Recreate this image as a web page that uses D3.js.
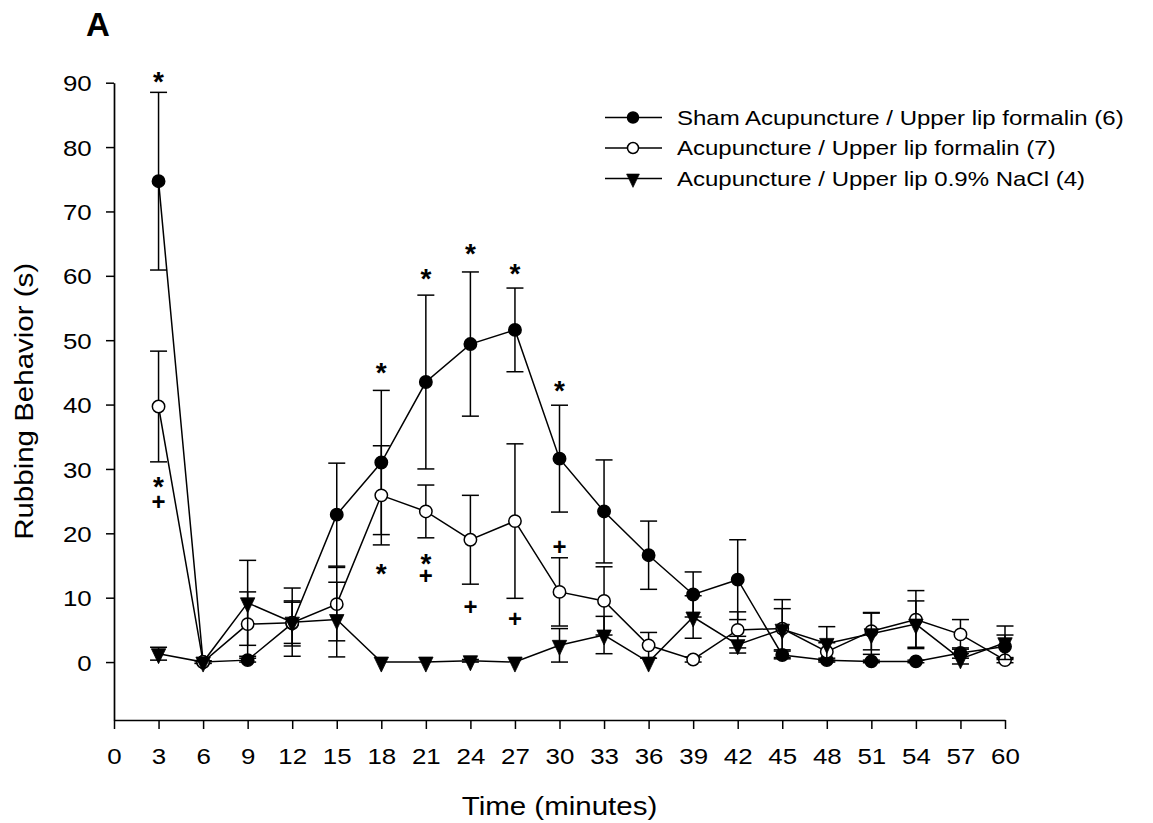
<!DOCTYPE html>
<html>
<head>
<meta charset="utf-8">
<script src="https://cdn.jsdelivr.net/npm/d3@7"></script>
<style>
  html, body { margin: 0; padding: 0; background: #fff; }
  svg { display: block; }
  text { font-family: "Liberation Sans", Arial, sans-serif; fill: #000; }
</style>
</head>
<body>
<svg id="chart" width="1153" height="823"></svg>
<script>
// ---------------- DATA ----------------
const times = [3, 6, 9, 12, 15, 18, 21, 24, 27, 30, 33, 36, 39, 42, 45, 48, 51, 54, 57, 60];

const shamMean = [74.7, 0, 0.3, 6.0, 22.9, 31.0, 43.5, 49.4, 51.6, 31.6, 23.4, 16.6, 10.5, 12.8, 1.1, 0.3, 0.1, 0.1, 1.4, 2.4];
const shamSE   = [13.8, 0.2, 0.3, 3.5, 8.0, 11.2, 13.5, 11.2, 6.5, 8.3, 8.0, 5.3, 3.5, 6.2, 0.6, 0.3, 0.2, 0.2, 0.8, 1.8];

const acuMean  = [39.7, 0, 5.9, 6.1, 9.0, 25.9, 23.4, 19.0, 21.9, 10.9, 9.5, 2.6, 0.4, 5.0, 5.2, 1.6, 4.8, 6.6, 4.3, 0.3];
const acuSE    = [8.6, 0.2, 5.0, 3.2, 5.7, 7.7, 4.1, 6.9, 12.0, 5.3, 5.3, 2.0, 0.4, 2.8, 4.5, 1.4, 2.9, 4.5, 2.3, 0.4];

const naclMean = [1.3, 0, 9.2, 6.2, 6.6, 0, 0, 0.2, 0, 2.6, 4.2, 0, 7.0, 2.7, 5.1, 2.9, 4.4, 5.9, 0.5, 3.0];
const naclSE   = [1.0, 0, 6.6, 5.3, 5.8, 0, 0, 0.2, 0, 2.6, 2.9, 0, 3.3, 1.3, 3.2, 2.6, 3.2, 3.6, 0.8, 2.6];

const seriesNames = [
  "Sham Acupuncture / Upper lip formalin (6)",
  "Acupuncture / Upper lip formalin (7)",
  "Acupuncture / Upper lip 0.9% NaCl (4)"
];

// significance marks: time, value position, symbol
const sigTimes   = [3, 3, 3, 18, 18, 21, 21, 21, 24, 24, 27, 27, 30, 30];
const sigValues  = [91.2, 28.3, 24.9, 46.0, 14.8, 60.6, 16.3, 13.4, 64.5, 8.7, 61.4, 6.7, 43.2, 17.9];
const sigSymbols = ["*", "*", "+", "*", "*", "*", "*", "+", "*", "+", "*", "+", "*", "+"];

const xTicks = d3.range(0, 61, 3);
const yTicks = d3.range(0, 91, 10);

const xTitle = "Time (minutes)";
const yTitle = "Rubbing Behavior (s)";
const panelLabel = "A";

// ---------------- CHART ----------------
const svg = d3.select("#chart");
const x = d3.scaleLinear().domain([0, 60]).range([114, 1005]);
const y = d3.scaleLinear().domain([-9, 90]).range([720, 82.7]);

const TXS = 1.15; // horizontal text stretch

// Y axis
const yAxisG = svg.append("g").attr("transform", `translate(${x(0)},0)`)
  .call(d3.axisLeft(y).tickValues(yTicks).tickSize(8).tickSizeOuter(0));
yAxisG.select(".domain").attr("stroke", "#000").attr("stroke-width", 1.7);
yAxisG.selectAll(".tick line").attr("stroke", "#000").attr("stroke-width", 1.5);
yAxisG.selectAll(".tick text")
  .attr("font-size", 22.5).attr("font-family", "Liberation Sans, Arial, sans-serif")
  .attr("x", -22.3 / TXS).attr("dy", "0.36em")
  .attr("transform", `scale(${TXS},1)`);

// X axis
const xAxisG = svg.append("g").attr("transform", `translate(0,${y(-9)})`)
  .call(d3.axisBottom(x).tickValues(xTicks).tickSize(9).tickSizeOuter(0));
xAxisG.select(".domain").attr("stroke", "#000").attr("stroke-width", 1.7);
xAxisG.selectAll(".tick line").attr("stroke", "#000").attr("stroke-width", 1.5);
xAxisG.selectAll(".tick text")
  .attr("font-size", 22.5).attr("font-family", "Liberation Sans, Arial, sans-serif")
  .attr("y", 44).attr("dy", 0)
  .attr("transform", `scale(${TXS},1)`);

// titles
svg.append("text").text(xTitle)
  .attr("transform", `translate(${(x(0) + x(60)) / 2},815) scale(1.18,1)`)
  .attr("text-anchor", "middle").attr("font-size", 25);
svg.append("text").text(yTitle)
  .attr("transform", `translate(33,${(y(90) + y(-9)) / 2}) rotate(-90) scale(1.18,1)`)
  .attr("text-anchor", "middle").attr("font-size", 25);
svg.append("text").text(panelLabel)
  .attr("x", 86).attr("y", 36).attr("font-size", 33).attr("font-weight", "bold");

// symbols
const triPath = "M-7.2,-5L7.2,-5L0,10Z";
function drawSymbol(g, type, cx, cy, r) {
  if (type === "tri") {
    const s = r / 6.2;
    g.append("path").attr("d", triPath)
      .attr("transform", `translate(${cx},${cy}) scale(${s})`)
      .attr("fill", "#000").attr("stroke", "#000").attr("stroke-width", 0.8);
  } else {
    g.append("circle").attr("cx", cx).attr("cy", cy).attr("r", r)
      .attr("fill", type === "filled" ? "#000" : "#fff")
      .attr("stroke", "#000").attr("stroke-width", 1.5);
  }
}

const series = [
  { means: shamMean, ses: shamSE, type: "filled" },
  { means: acuMean, ses: acuSE, type: "open" },
  { means: naclMean, ses: naclSE, type: "tri" }
];

const line = d3.line().x(d => x(d[0])).y(d => y(d[1]));
const capW = 8.5;

series.forEach(s => {
  const g = svg.append("g");
  const pts = times.map((t, i) => [t, s.means[i], s.ses[i]]);
  pts.forEach(([t, m, se]) => {
    if (se <= 0) return;
    const cx = x(t), yt = y(m + se), yb = y(m - se);
    g.append("line").attr("x1", cx).attr("x2", cx).attr("y1", yt).attr("y2", yb)
      .attr("stroke", "#000").attr("stroke-width", 1.5);
    [yt, yb].forEach(yy => g.append("line")
      .attr("x1", cx - capW).attr("x2", cx + capW).attr("y1", yy).attr("y2", yy)
      .attr("stroke", "#000").attr("stroke-width", 1.5));
  });
  g.append("path").datum(pts).attr("d", line)
    .attr("fill", "none").attr("stroke", "#000").attr("stroke-width", 1.5);
  pts.forEach(([t, m]) => drawSymbol(g, s.type, x(t), y(m), 6.2));
});

// significance marks
sigTimes.forEach((t, i) => {
  const sym = sigSymbols[i];
  const isStar = sym === "*";
  const fs = isStar ? 28 : 24;
  const off = isStar ? 0.58 * fs : 0.355 * fs;
  svg.append("text").text(sym)
    .attr("x", x(t)).attr("y", y(sigValues[i]) + off)
    .attr("text-anchor", "middle").attr("font-size", fs).attr("font-weight", "bold");
});

// legend
const legTypes = ["filled", "open", "tri"];
const legRowY = [117.5, 148, 178.5];
legTypes.forEach((tp, i) => {
  const g = svg.append("g");
  const cy = legRowY[i];
  g.append("line").attr("x1", 605).attr("x2", 662).attr("y1", cy).attr("y2", cy)
    .attr("stroke", "#000").attr("stroke-width", 1.5);
  drawSymbol(g, tp, 633, cy, 5.5);
  g.append("text").text(seriesNames[i])
    .attr("transform", `translate(677,${cy + 7.2}) scale(1.2,1)`)
    .attr("font-size", 20);
});
</script>
</body>
</html>
